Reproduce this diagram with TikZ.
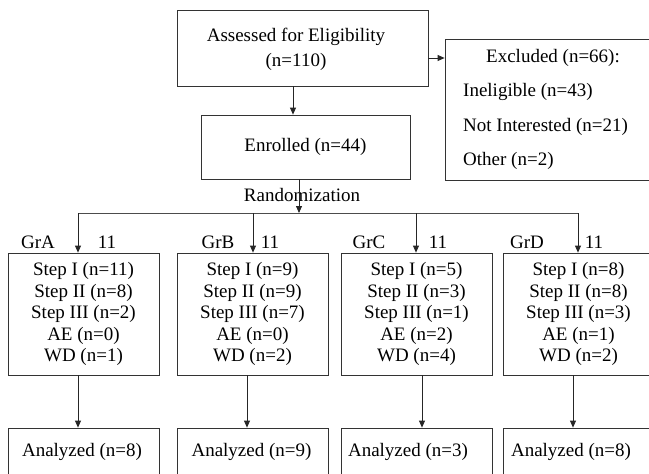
\documentclass[tikz,border=0pt]{standalone}
\usepackage{fontspec}
\setmainfont{Liberation Serif}
\usetikzlibrary{arrows.meta}
\begin{document}
\begin{tikzpicture}[x=1pt,y=-1pt,
  box/.style={draw=black!80,line width=0.8pt,rectangle,inner sep=0pt},
  txt/.style={font=\fontsize{19}{21.5}\selectfont,inner sep=0pt,align=center},
  arr/.style={draw=black!85,line width=0.8pt,-{Triangle[length=7pt,width=6pt]}},
  ln/.style={draw=black!70,line width=0.8pt}]
\clip (0,0) rectangle (649,474);
% boxes
\node[box,minimum width=251pt,minimum height=76pt] (ass) at (302.5,48) {};
\node[box,minimum width=255pt,minimum height=141pt] (exc) at (572.5,109.5) {};
\node[box,minimum width=209pt,minimum height=64pt,txt] (enr) at (305.5,147) {Enrolled (n=44)};
\node[box,minimum width=151pt,minimum height=122pt,txt] (gA) at (83.5,314)
  {Step I (n=11)\\Step II (n=8)\\Step III (n=2)\\AE (n=0)\\WD (n=1)};
\node[box,minimum width=151pt,minimum height=122pt,txt] (gB) at (252.5,314)
  {Step I (n=9)\\Step II (n=9)\\Step III (n=7)\\AE (n=0)\\WD (n=2)};
\node[box,minimum width=151pt,minimum height=122pt,txt] (gC) at (416.5,314)
  {Step I (n=5)\\Step II (n=3)\\Step III (n=1)\\AE (n=2)\\WD (n=4)};
\node[box,minimum width=151pt,minimum height=122pt,txt] (gD) at (578.5,314)
  {Step I (n=8)\\Step II (n=8)\\Step III (n=3)\\AE (n=1)\\WD (n=2)};
\node[box,minimum width=151pt,minimum height=72pt] (aA) at (83.5,464) {};
\node[box,minimum width=151pt,minimum height=72pt] (aB) at (252.5,464) {};
\node[box,minimum width=151pt,minimum height=72pt] (aC) at (416.5,464) {};
\node[box,minimum width=151pt,minimum height=72pt] (aD) at (578.5,464) {};
% texts
\node[txt,font=\fontsize{19}{25}\selectfont] (tass) at (296,49.5) {Assessed for Eligibility\\(n=110)};
\node[txt] (texc) at (553,58) {Excluded (n=66):};
\node[txt,anchor=west,align=left,font=\fontsize{19}{34.5}\selectfont] (texl) at (463,126.5)
  {Ineligible (n=43)\\Not Interested (n=21)\\Other (n=2)};
\node[txt] (trand) at (302,195) {Randomization};
\node[txt] (lA) at (38,242) {GrA};
\node[txt] (nA) at (107,242) {11};
\node[txt] (lB) at (218,242) {GrB};
\node[txt] (nB) at (270,242) {11};
\node[txt] (lC) at (369,242) {GrC};
\node[txt] (nC) at (438,242) {11};
\node[txt] (lD) at (527,242) {GrD};
\node[txt] (nD) at (594,242) {11};
\node[txt] (tA) at (82,452) {Analyzed (n=8)};
\node[txt] (tB) at (251.5,452) {Analyzed (n=9)};
\node[txt] (tC) at (408,452) {Analyzed (n=3)};
\node[txt] (tD) at (571,452) {Analyzed (n=8)};
% coordinates
\coordinate (xe) at (293,0);
\coordinate (ye) at (0,58);
\coordinate (r) at (299,213);
\coordinate (bA) at (78,213);
\coordinate (bB) at (253,213);
\coordinate (bC) at (416,213);
\coordinate (bD) at (578,213);
\coordinate (dA) at (78,0);
\coordinate (dB) at (247,0);
\coordinate (dC) at (422,0);
\coordinate (dD) at (573,0);
% connectors
\draw[arr] (ass.south -| xe) -- (enr.north -| xe);
\draw[arr] (ass.east |- ye) -- (exc.west |- ye);
\draw[ln] (bA) -- (bD);
\draw[arr] (enr.south -| r) -- (r);
\draw[arr] (bA) -- (gA.north -| bA);
\draw[arr] (bB) -- (gB.north -| bB);
\draw[arr] (bC) -- (gC.north -| bC);
\draw[arr] (bD) -- (gD.north -| bD);
\draw[arr] (gA.south -| dA) -- (aA.north -| dA);
\draw[arr] (gB.south -| dB) -- (aB.north -| dB);
\draw[arr] (gC.south -| dC) -- (aC.north -| dC);
\draw[arr] (gD.south -| dD) -- (aD.north -| dD);
\end{tikzpicture}
\end{document}
